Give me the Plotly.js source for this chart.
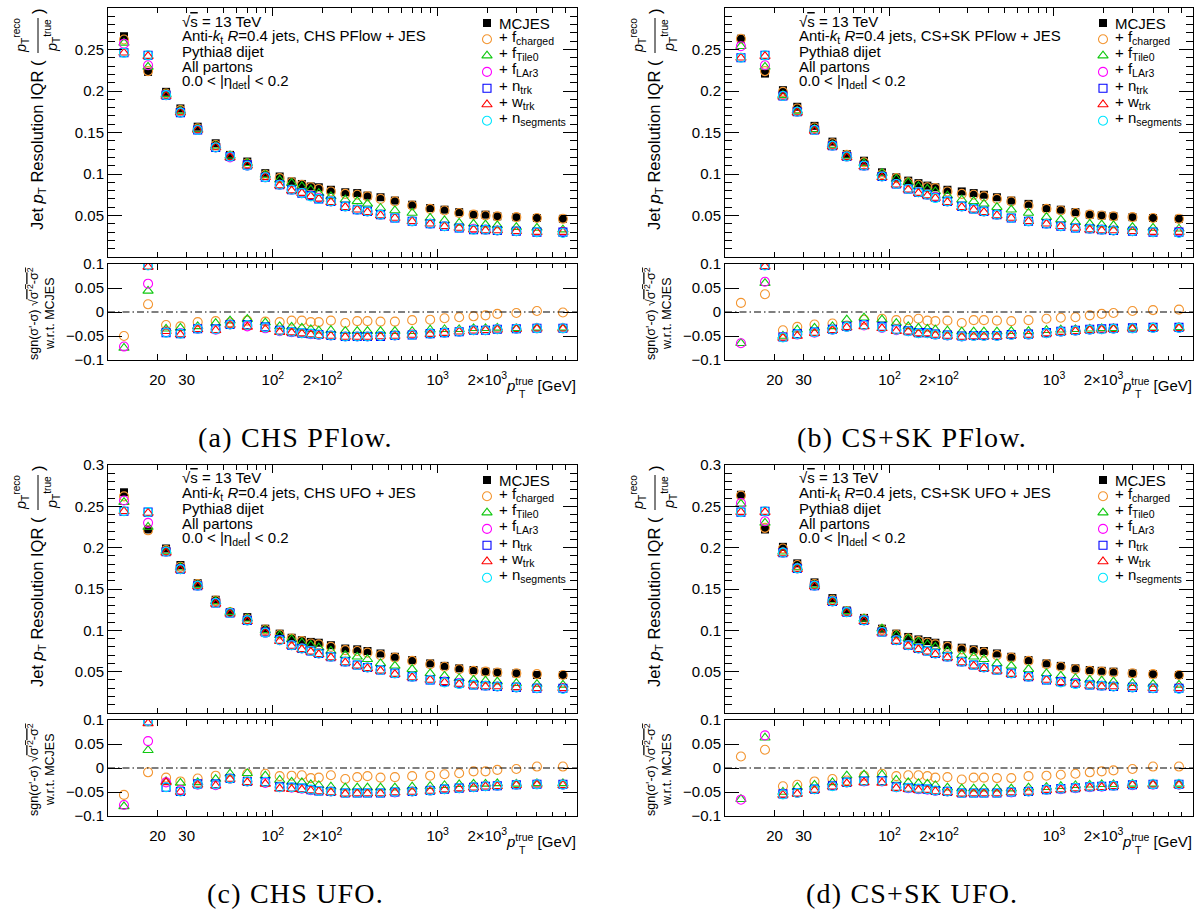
<!DOCTYPE html>
<html><head><meta charset="utf-8">
<script src="https://cdn.plot.ly/plotly-3.0.1.min.js"></script>
<style>html,body{margin:0;padding:0;background:#fff;}#chart{width:1204px;height:913px;}</style>
</head><body><div id="chart"></div>
<script>
// ---------------- data ----------------
const pt = [12.5, 17.5, 22.5, 27.5, 35, 45, 55, 70, 90, 110, 130, 150, 170, 190, 225, 275, 325, 375, 450, 550, 700, 900, 1100, 1350, 1650, 1950, 2300, 3000, 4000, 5750];

// (a) CHS PFlow
const mcjesA = [0.266, 0.223, 0.199, 0.179, 0.157, 0.137, 0.123, 0.115, 0.101, 0.097, 0.091, 0.088, 0.085, 0.084, 0.081, 0.078, 0.077, 0.074, 0.072, 0.068, 0.063, 0.059, 0.057, 0.054, 0.051, 0.051, 0.049, 0.048, 0.047, 0.046];
const fchA   = [0.262, 0.224, 0.197, 0.177, 0.155, 0.135, 0.122, 0.113, 0.099, 0.095, 0.090, 0.087, 0.084, 0.082, 0.079, 0.076, 0.075, 0.073, 0.070, 0.067, 0.062, 0.058, 0.056, 0.053, 0.051, 0.050, 0.049, 0.048, 0.047, 0.046];
const ftileA = [0.258, 0.229, 0.196, 0.176, 0.154, 0.134, 0.122, 0.113, 0.099, 0.093, 0.089, 0.085, 0.081, 0.077, 0.073, 0.069, 0.067, 0.064, 0.059, 0.056, 0.053, 0.047, 0.044, 0.041, 0.040, 0.039, 0.038, 0.036, 0.035, 0.033];
const flarA  = [0.257, 0.231, 0.195, 0.174, 0.153, 0.132, 0.120, 0.110, 0.096, 0.087, 0.081, 0.077, 0.074, 0.071, 0.067, 0.061, 0.057, 0.055, 0.051, 0.047, 0.043, 0.040, 0.037, 0.035, 0.034, 0.033, 0.032, 0.031, 0.030, 0.030];
const ntrkA  = [0.246, 0.243, 0.195, 0.174, 0.153, 0.132, 0.121, 0.111, 0.096, 0.087, 0.081, 0.077, 0.074, 0.070, 0.067, 0.061, 0.057, 0.055, 0.051, 0.047, 0.043, 0.040, 0.037, 0.035, 0.033, 0.033, 0.032, 0.031, 0.030, 0.030];
const wtrkA  = [0.246, 0.242, 0.194, 0.174, 0.153, 0.132, 0.120, 0.110, 0.096, 0.086, 0.080, 0.077, 0.073, 0.070, 0.066, 0.060, 0.057, 0.054, 0.050, 0.047, 0.043, 0.040, 0.037, 0.035, 0.033, 0.032, 0.032, 0.031, 0.030, 0.030];
const nsegA  = [0.246, 0.243, 0.195, 0.174, 0.153, 0.132, 0.121, 0.110, 0.096, 0.087, 0.081, 0.077, 0.073, 0.070, 0.067, 0.061, 0.057, 0.055, 0.051, 0.047, 0.043, 0.040, 0.037, 0.035, 0.033, 0.033, 0.032, 0.031, 0.030, 0.029];
const rfchA   = [-0.050, 0.016, -0.027, -0.030, -0.021, -0.019, -0.022, -0.018, -0.020, -0.021, -0.018, -0.018, -0.021, -0.021, -0.018, -0.023, -0.019, -0.019, -0.020, -0.020, -0.017, -0.016, -0.013, -0.011, -0.009, -0.007, -0.004, -0.002, 0.002, -0.001];
const rtileA  = [-0.075, 0.044, -0.035, -0.033, -0.030, -0.023, -0.018, -0.015, -0.022, -0.030, -0.031, -0.033, -0.036, -0.039, -0.038, -0.040, -0.040, -0.040, -0.040, -0.040, -0.040, -0.037, -0.036, -0.036, -0.034, -0.034, -0.033, -0.034, -0.033, -0.033];
const rlarA   = [-0.072, 0.059, -0.042, -0.044, -0.035, -0.037, -0.026, -0.030, -0.034, -0.040, -0.042, -0.044, -0.046, -0.048, -0.049, -0.051, -0.051, -0.051, -0.050, -0.049, -0.047, -0.045, -0.043, -0.041, -0.038, -0.038, -0.036, -0.035, -0.034, -0.034];
const rntrkA  = [null, 0.097, -0.043, -0.045, -0.035, -0.035, -0.026, -0.026, -0.031, -0.038, -0.041, -0.044, -0.045, -0.047, -0.049, -0.051, -0.051, -0.051, -0.051, -0.049, -0.048, -0.045, -0.043, -0.041, -0.038, -0.038, -0.036, -0.035, -0.034, -0.034];
const rwtrkA  = [null, 0.094, -0.040, -0.047, -0.036, -0.038, -0.027, -0.031, -0.036, -0.042, -0.043, -0.045, -0.047, -0.049, -0.050, -0.052, -0.052, -0.052, -0.051, -0.050, -0.048, -0.046, -0.044, -0.041, -0.039, -0.038, -0.037, -0.036, -0.035, -0.035];
const rnsegA  = [null, 0.097, -0.043, -0.045, -0.035, -0.036, -0.026, -0.027, -0.032, -0.039, -0.041, -0.044, -0.045, -0.047, -0.049, -0.051, -0.051, -0.051, -0.050, -0.049, -0.048, -0.045, -0.043, -0.041, -0.038, -0.038, -0.036, -0.035, -0.034, -0.034];

// (b) CS+SK PFlow
const mcjesB = [0.263, 0.221, 0.201, 0.181, 0.158, 0.139, 0.124, 0.116, 0.102, 0.096, 0.092, 0.089, 0.086, 0.084, 0.081, 0.079, 0.077, 0.075, 0.072, 0.068, 0.064, 0.059, 0.057, 0.054, 0.051, 0.050, 0.049, 0.048, 0.047, 0.046];
const fchB   = [0.263, 0.224, 0.199, 0.179, 0.156, 0.137, 0.123, 0.114, 0.100, 0.095, 0.090, 0.087, 0.084, 0.083, 0.079, 0.076, 0.075, 0.073, 0.070, 0.067, 0.062, 0.058, 0.056, 0.053, 0.051, 0.050, 0.049, 0.048, 0.047, 0.046];
const ftileB = [0.254, 0.229, 0.195, 0.176, 0.154, 0.135, 0.122, 0.113, 0.101, 0.094, 0.090, 0.085, 0.082, 0.079, 0.074, 0.069, 0.067, 0.064, 0.060, 0.057, 0.053, 0.048, 0.045, 0.042, 0.040, 0.039, 0.038, 0.036, 0.035, 0.034];
const flarB  = [0.254, 0.231, 0.194, 0.175, 0.153, 0.134, 0.121, 0.110, 0.097, 0.088, 0.082, 0.078, 0.075, 0.072, 0.067, 0.061, 0.058, 0.055, 0.051, 0.047, 0.043, 0.040, 0.037, 0.035, 0.034, 0.033, 0.032, 0.031, 0.030, 0.030];
const ntrkB  = [0.240, 0.243, 0.194, 0.175, 0.153, 0.134, 0.121, 0.110, 0.097, 0.088, 0.082, 0.078, 0.075, 0.072, 0.067, 0.061, 0.058, 0.055, 0.051, 0.047, 0.043, 0.040, 0.037, 0.035, 0.034, 0.033, 0.032, 0.031, 0.030, 0.030];
const wtrkB  = [0.240, 0.242, 0.193, 0.174, 0.152, 0.133, 0.120, 0.109, 0.096, 0.087, 0.081, 0.077, 0.074, 0.071, 0.066, 0.060, 0.057, 0.054, 0.050, 0.047, 0.043, 0.040, 0.037, 0.035, 0.033, 0.032, 0.032, 0.031, 0.030, 0.030];
const nsegB  = [0.240, 0.243, 0.194, 0.175, 0.153, 0.134, 0.121, 0.110, 0.097, 0.088, 0.082, 0.078, 0.075, 0.071, 0.067, 0.061, 0.058, 0.055, 0.051, 0.047, 0.043, 0.040, 0.037, 0.035, 0.034, 0.033, 0.032, 0.031, 0.030, 0.029];
const rfchB   = [0.019, 0.037, -0.038, -0.031, -0.026, -0.024, -0.028, -0.016, -0.014, -0.017, -0.017, -0.014, -0.018, -0.019, -0.018, -0.023, -0.017, -0.017, -0.018, -0.019, -0.017, -0.014, -0.012, -0.011, -0.007, -0.004, -0.002, 0.002, 0.004, 0.005];
const rtileB  = [-0.065, 0.060, -0.050, -0.037, -0.033, -0.030, -0.016, -0.012, -0.016, -0.023, -0.030, -0.033, -0.035, -0.037, -0.039, -0.041, -0.041, -0.041, -0.041, -0.040, -0.040, -0.038, -0.037, -0.036, -0.035, -0.034, -0.034, -0.033, -0.033, -0.032];
const rlarB   = [-0.065, 0.063, -0.052, -0.047, -0.043, -0.037, -0.031, -0.028, -0.033, -0.038, -0.040, -0.044, -0.044, -0.047, -0.049, -0.051, -0.050, -0.050, -0.050, -0.048, -0.047, -0.044, -0.041, -0.039, -0.037, -0.036, -0.035, -0.034, -0.033, -0.033];
const rntrkB  = [null, 0.097, -0.052, -0.045, -0.041, -0.036, -0.030, -0.026, -0.030, -0.036, -0.039, -0.043, -0.043, -0.046, -0.048, -0.050, -0.049, -0.049, -0.049, -0.047, -0.046, -0.043, -0.040, -0.038, -0.036, -0.035, -0.034, -0.033, -0.032, -0.032];
const rwtrkB  = [null, 0.095, -0.054, -0.050, -0.044, -0.038, -0.032, -0.030, -0.034, -0.040, -0.041, -0.045, -0.045, -0.048, -0.050, -0.052, -0.051, -0.051, -0.051, -0.049, -0.048, -0.045, -0.042, -0.040, -0.038, -0.037, -0.036, -0.035, -0.034, -0.034];
const rnsegB  = [null, 0.097, -0.053, -0.046, -0.042, -0.037, -0.031, -0.027, -0.032, -0.037, -0.040, -0.044, -0.044, -0.047, -0.049, -0.051, -0.050, -0.050, -0.050, -0.048, -0.047, -0.044, -0.041, -0.039, -0.037, -0.036, -0.035, -0.034, -0.033, -0.033];

// (c) CHS UFO
const mcjesC = [0.267, 0.222, 0.199, 0.179, 0.157, 0.137, 0.122, 0.116, 0.102, 0.096, 0.091, 0.088, 0.086, 0.085, 0.082, 0.078, 0.077, 0.075, 0.072, 0.068, 0.064, 0.060, 0.057, 0.054, 0.052, 0.050, 0.049, 0.048, 0.046, 0.046];
const fchC   = [0.262, 0.221, 0.197, 0.177, 0.156, 0.136, 0.122, 0.114, 0.101, 0.095, 0.090, 0.087, 0.084, 0.083, 0.080, 0.076, 0.075, 0.073, 0.070, 0.067, 0.063, 0.059, 0.056, 0.053, 0.051, 0.050, 0.049, 0.048, 0.047, 0.046];
const ftileC = [0.255, 0.225, 0.196, 0.176, 0.155, 0.135, 0.122, 0.114, 0.100, 0.094, 0.089, 0.085, 0.082, 0.079, 0.075, 0.070, 0.068, 0.065, 0.060, 0.057, 0.053, 0.048, 0.045, 0.042, 0.040, 0.039, 0.038, 0.036, 0.035, 0.034];
const flarC  = [0.257, 0.230, 0.195, 0.174, 0.154, 0.133, 0.121, 0.112, 0.097, 0.088, 0.082, 0.078, 0.075, 0.072, 0.068, 0.062, 0.058, 0.055, 0.052, 0.048, 0.044, 0.040, 0.038, 0.036, 0.034, 0.033, 0.032, 0.031, 0.030, 0.030];
const ntrkC  = [0.244, 0.243, 0.195, 0.174, 0.154, 0.133, 0.121, 0.112, 0.098, 0.089, 0.082, 0.078, 0.075, 0.072, 0.068, 0.062, 0.058, 0.055, 0.052, 0.048, 0.044, 0.040, 0.038, 0.036, 0.034, 0.033, 0.032, 0.031, 0.030, 0.030];
const wtrkC  = [0.244, 0.242, 0.194, 0.173, 0.153, 0.132, 0.120, 0.111, 0.097, 0.087, 0.081, 0.077, 0.074, 0.071, 0.067, 0.061, 0.057, 0.054, 0.051, 0.047, 0.043, 0.040, 0.037, 0.035, 0.033, 0.032, 0.032, 0.031, 0.030, 0.030];
const nsegC  = [0.244, 0.243, 0.195, 0.174, 0.154, 0.133, 0.121, 0.112, 0.097, 0.088, 0.082, 0.078, 0.075, 0.072, 0.068, 0.062, 0.058, 0.055, 0.052, 0.048, 0.044, 0.040, 0.037, 0.035, 0.034, 0.033, 0.032, 0.031, 0.030, 0.029];
const rfchC   = [-0.056, -0.009, -0.020, -0.028, -0.022, -0.016, -0.022, -0.012, -0.012, -0.017, -0.016, -0.015, -0.021, -0.020, -0.015, -0.023, -0.019, -0.017, -0.020, -0.019, -0.017, -0.016, -0.013, -0.011, -0.007, -0.007, -0.004, -0.002, 0.003, 0.003];
const rtileC  = [-0.080, 0.037, -0.028, -0.031, -0.030, -0.023, -0.012, -0.011, -0.016, -0.025, -0.029, -0.030, -0.034, -0.036, -0.039, -0.041, -0.041, -0.041, -0.041, -0.041, -0.039, -0.038, -0.036, -0.034, -0.033, -0.033, -0.032, -0.033, -0.032, -0.032];
const rlarC   = [-0.077, 0.056, -0.030, -0.046, -0.035, -0.036, -0.022, -0.028, -0.031, -0.040, -0.041, -0.043, -0.046, -0.048, -0.049, -0.052, -0.052, -0.052, -0.052, -0.051, -0.049, -0.047, -0.044, -0.042, -0.040, -0.038, -0.037, -0.035, -0.034, -0.035];
const rntrkC  = [null, 0.098, -0.040, -0.049, -0.033, -0.033, -0.022, -0.028, -0.028, -0.039, -0.040, -0.042, -0.045, -0.048, -0.049, -0.052, -0.052, -0.052, -0.052, -0.050, -0.049, -0.047, -0.044, -0.042, -0.040, -0.038, -0.037, -0.035, -0.034, -0.034];
const rwtrkC  = [null, 0.093, -0.030, -0.050, -0.035, -0.037, -0.023, -0.030, -0.033, -0.043, -0.044, -0.045, -0.047, -0.049, -0.051, -0.054, -0.053, -0.053, -0.053, -0.051, -0.050, -0.048, -0.045, -0.043, -0.041, -0.039, -0.038, -0.036, -0.035, -0.036];
const rnsegC  = [null, 0.097, -0.040, -0.049, -0.034, -0.034, -0.022, -0.028, -0.029, -0.040, -0.040, -0.042, -0.045, -0.048, -0.049, -0.052, -0.052, -0.052, -0.052, -0.050, -0.049, -0.047, -0.044, -0.042, -0.040, -0.038, -0.037, -0.035, -0.034, -0.035];

// (d) CS+SK UFO
const mcjesD = [0.264, 0.222, 0.201, 0.181, 0.158, 0.139, 0.124, 0.115, 0.102, 0.096, 0.092, 0.089, 0.087, 0.085, 0.082, 0.079, 0.077, 0.075, 0.072, 0.068, 0.064, 0.060, 0.057, 0.054, 0.052, 0.051, 0.050, 0.048, 0.047, 0.046];
const fchD   = [0.263, 0.224, 0.199, 0.179, 0.156, 0.137, 0.123, 0.114, 0.101, 0.095, 0.090, 0.087, 0.085, 0.083, 0.080, 0.077, 0.075, 0.073, 0.070, 0.067, 0.063, 0.059, 0.056, 0.053, 0.051, 0.050, 0.049, 0.048, 0.047, 0.046];
const ftileD = [0.253, 0.230, 0.195, 0.176, 0.155, 0.136, 0.123, 0.114, 0.102, 0.094, 0.090, 0.086, 0.083, 0.080, 0.075, 0.070, 0.068, 0.065, 0.060, 0.057, 0.053, 0.048, 0.045, 0.042, 0.040, 0.039, 0.038, 0.036, 0.035, 0.034];
const flarD  = [0.254, 0.232, 0.194, 0.175, 0.154, 0.135, 0.122, 0.112, 0.098, 0.088, 0.082, 0.078, 0.075, 0.072, 0.068, 0.062, 0.058, 0.055, 0.052, 0.048, 0.044, 0.040, 0.038, 0.036, 0.034, 0.033, 0.032, 0.031, 0.030, 0.030];
const ntrkD  = [0.243, 0.244, 0.194, 0.175, 0.154, 0.135, 0.122, 0.112, 0.098, 0.088, 0.082, 0.078, 0.075, 0.072, 0.068, 0.062, 0.058, 0.055, 0.052, 0.048, 0.044, 0.040, 0.038, 0.036, 0.034, 0.033, 0.032, 0.031, 0.030, 0.030];
const wtrkD  = [0.243, 0.243, 0.193, 0.174, 0.153, 0.134, 0.121, 0.111, 0.097, 0.087, 0.081, 0.077, 0.074, 0.071, 0.067, 0.061, 0.057, 0.054, 0.051, 0.047, 0.043, 0.040, 0.037, 0.035, 0.033, 0.032, 0.032, 0.031, 0.030, 0.030];
const nsegD  = [0.243, 0.244, 0.194, 0.175, 0.154, 0.135, 0.122, 0.112, 0.098, 0.088, 0.082, 0.078, 0.075, 0.072, 0.068, 0.062, 0.058, 0.055, 0.052, 0.048, 0.044, 0.040, 0.037, 0.035, 0.034, 0.033, 0.032, 0.031, 0.030, 0.029];
const rfchD   = [0.024, 0.038, -0.038, -0.035, -0.028, -0.023, -0.026, -0.016, -0.012, -0.017, -0.015, -0.015, -0.017, -0.020, -0.019, -0.024, -0.020, -0.020, -0.021, -0.021, -0.017, -0.016, -0.014, -0.012, -0.009, -0.007, -0.005, -0.002, 0.003, 0.003];
const rtileD  = [-0.065, 0.063, -0.050, -0.040, -0.035, -0.030, -0.016, -0.014, -0.014, -0.025, -0.030, -0.032, -0.033, -0.036, -0.041, -0.043, -0.043, -0.043, -0.043, -0.043, -0.041, -0.040, -0.038, -0.036, -0.035, -0.034, -0.034, -0.033, -0.033, -0.033];
const rlarD   = [-0.066, 0.068, -0.054, -0.052, -0.044, -0.037, -0.030, -0.028, -0.028, -0.040, -0.042, -0.044, -0.045, -0.048, -0.049, -0.052, -0.052, -0.052, -0.052, -0.051, -0.049, -0.045, -0.044, -0.042, -0.040, -0.039, -0.037, -0.036, -0.035, -0.035];
const rntrkD  = [null, null, -0.054, -0.051, -0.044, -0.037, -0.030, -0.027, -0.026, -0.039, -0.041, -0.043, -0.044, -0.047, -0.049, -0.052, -0.052, -0.052, -0.052, -0.050, -0.049, -0.045, -0.043, -0.041, -0.039, -0.038, -0.037, -0.035, -0.034, -0.034];
const rwtrkD  = [null, null, -0.056, -0.054, -0.046, -0.039, -0.032, -0.030, -0.031, -0.042, -0.044, -0.046, -0.046, -0.049, -0.051, -0.054, -0.053, -0.053, -0.053, -0.051, -0.050, -0.046, -0.045, -0.043, -0.041, -0.040, -0.038, -0.036, -0.035, -0.036];
const rnsegD  = [null, null, -0.055, -0.052, -0.044, -0.038, -0.030, -0.027, -0.027, -0.040, -0.041, -0.043, -0.044, -0.047, -0.049, -0.052, -0.052, -0.052, -0.052, -0.050, -0.049, -0.045, -0.043, -0.041, -0.039, -0.038, -0.037, -0.035, -0.034, -0.034];

const seriesNames = ['MCJES', '+ f<sub>charged</sub>', '+ f<sub>Tile0</sub>', '+ f<sub>LAr3</sub>', '+ n<sub>trk</sub>', '+ w<sub>trk</sub>', '+ n<sub>segments</sub>'];
const mainTickVals = [0.05, 0.1, 0.15, 0.2, 0.25, 0.3];
const mainTickText = ['0.05', '0.1', '0.15', '0.2', '0.25', '0.3'];
const ratioTickVals = [-0.1, -0.05, 0, 0.05, 0.1];
const ratioTickText = ['\u22120.1', '\u22120.05', '0', '0.05', '0.1'];
const xLabelVals = [20, 30, 100, 200, 1000, 2000];
const xLabelText = ['20', '30', '10<sup>2</sup>', '2\u00d710<sup>2</sup>', '10<sup>3</sup>', '2\u00d710<sup>3</sup>'];

// ---------------- styles / geometry ----------------
const styles = [
  {symbol: 'square', color: '#000000', size: 8, filled: true},
  {symbol: 'circle-open', color: '#f39530', size: 9},
  {symbol: 'triangle-up-open', color: '#10c810', size: 9},
  {symbol: 'circle-open', color: '#ff00ff', size: 9},
  {symbol: 'square-open', color: '#0000ff', size: 8},
  {symbol: 'triangle-up-open', color: '#ff0000', size: 9},
  {symbol: 'circle-open', color: '#00e5ff', size: 9}
];
const FONT = '"Liberation Sans", Arial, Helvetica, sans-serif';
const SERIF = '"Liberation Serif", "Times New Roman", serif';
const W = 1204, H = 913;
const fx = p => p / W, fy = p => 1 - p / H;

const panels = [
  {main: [mcjesA, fchA, ftileA, flarA, ntrkA, wtrkA, nsegA], ratio: [rfchA, rtileA, rlarA, rntrkA, rwtrkA, rnsegA],
   jet: 'CHS PFlow', caption: '(a) CHS PFlow.', x0: 108, x1: 577, top: 8, bot: 257, rTop: 264, rBot: 360},
  {main: [mcjesB, fchB, ftileB, flarB, ntrkB, wtrkB, nsegB], ratio: [rfchB, rtileB, rlarB, rntrkB, rwtrkB, rnsegB],
   jet: 'CS+SK PFlow', caption: '(b) CS+SK PFlow.', x0: 725, x1: 1193, top: 8, bot: 257, rTop: 264, rBot: 360},
  {main: [mcjesC, fchC, ftileC, flarC, ntrkC, wtrkC, nsegC], ratio: [rfchC, rtileC, rlarC, rntrkC, rwtrkC, rnsegC],
   jet: 'CHS UFO', caption: '(c) CHS UFO.', x0: 108, x1: 577, top: 465, bot: 713, rTop: 720, rBot: 816},
  {main: [mcjesD, fchD, ftileD, flarD, ntrkD, wtrkD, nsegD], ratio: [rfchD, rtileD, rlarD, rntrkD, rwtrkD, rnsegD],
   jet: 'CS+SK UFO', caption: '(d) CS+SK UFO.', x0: 725, x1: 1193, top: 465, bot: 713, rTop: 720, rBot: 816}
];

const minorXMain = [20,30,40,50,60,70,80,90,200,300,400,500,600,700,800,900,2000,3000,4000,5000,6000,7000];
const minorXRatio = [40,50,60,70,80,90,300,400,500,600,700,800,900,3000,4000,5000,6000,7000];
const minorYMain = [];
for (let k = 1; k < 30; k++) if (k % 5 !== 0) minorYMain.push(k / 100);

function markerOf(s) {
  return s.filled
    ? {symbol: s.symbol, size: s.size, color: s.color, line: {width: 0}}
    : {symbol: s.symbol, size: s.size, color: s.color, line: {color: s.color, width: 1.1}};
}

const traces = [];
const layout = {
  width: W, height: H, margin: {l: 0, r: 0, t: 0, b: 0}, showlegend: false,
  paper_bgcolor: '#ffffff', plot_bgcolor: '#ffffff', hovermode: false,
  font: {family: FONT, size: 15, color: '#000'},
  annotations: [], shapes: []
};
const ann = (o) => layout.annotations.push(Object.assign({showarrow: false, xref: 'paper', yref: 'paper', font: {family: FONT, size: 15, color: '#000'}}, o));

panels.forEach((P, i) => {
  const m = 2 * i + 1, r = 2 * i + 2, g = 9 + i;
  const xdom = [fx(P.x0), fx(P.x1)];
  const baseX = {type: 'log', range: [1, Math.log10(7000)], domain: xdom, showline: true, linecolor: '#000', linewidth: 1,
    mirror: 'ticks', ticks: 'inside', tickcolor: '#000', tickwidth: 1, showgrid: false, zeroline: false, fixedrange: true};
  const baseY = {showline: true, linecolor: '#000', linewidth: 1, mirror: 'ticks', ticks: 'inside', tickcolor: '#000', tickwidth: 1,
    showgrid: false, zeroline: false, fixedrange: true, tickfont: {family: FONT, size: 15, color: '#000'}, tickmode: 'array'};

  layout['xaxis' + m] = Object.assign({}, baseX, {anchor: 'y' + m, tickmode: 'array', tickvals: [10, 100, 1000], ticklen: 8, showticklabels: false,
    minor: {tickmode: 'array', tickvals: minorXMain, ticklen: 5, ticks: 'inside', tickcolor: '#000', tickwidth: 1}});
  layout['yaxis' + m] = Object.assign({}, baseY, {anchor: 'x' + m, domain: [fy(P.bot), fy(P.top)], range: [0, 0.3],
    tickvals: mainTickVals, ticktext: mainTickText, ticklen: 14,
    minor: {tickmode: 'array', tickvals: minorYMain, ticklen: 7, ticks: 'inside', tickcolor: '#000', tickwidth: 1}});
  layout['xaxis' + r] = Object.assign({}, baseX, {anchor: 'y' + r, tickmode: 'array', tickvals: xLabelVals, ticktext: xLabelText, ticklen: 6,
    tickfont: {family: FONT, size: 15, color: '#000'}, ticklabelstandoff: 6,
    minor: {tickmode: 'array', tickvals: minorXRatio, ticklen: 4, ticks: 'inside', tickcolor: '#000', tickwidth: 1}});
  layout['yaxis' + r] = Object.assign({}, baseY, {anchor: 'x' + r, domain: [fy(P.rBot), fy(P.rTop)], range: [-0.1, 0.1],
    tickvals: ratioTickVals, ticktext: ratioTickText, ticklen: 14});

  // legend axis (rows stacked from the series order)
  const lx = P.x1 - 90, ly0 = P.top + 15, step = 16.3;
  layout['xaxis' + g] = {domain: [fx(lx - 10), fx(lx + 10)], range: [-1, 1], visible: false, anchor: 'y' + g, fixedrange: true};
  layout['yaxis' + g] = {domain: [fy(ly0 + 6.5 * step), fy(ly0 - 0.5 * step)], range: [6.5, -0.5], visible: false, anchor: 'x' + g, fixedrange: true};

  P.main.forEach((vals, j) => {
    traces.push({x: pt, y: vals, xaxis: 'x' + m, yaxis: 'y' + m, type: 'scatter', mode: 'markers', marker: markerOf(styles[j]), hoverinfo: 'skip', name: seriesNames[j]});
  });
  P.ratio.forEach((vals, j) => {
    traces.push({x: pt, y: vals, xaxis: 'x' + r, yaxis: 'y' + r, type: 'scatter', mode: 'markers', marker: markerOf(styles[j + 1]), hoverinfo: 'skip', name: seriesNames[j + 1]});
  });
  seriesNames.forEach((nm, j) => {
    traces.push({x: [0], y: [j], xaxis: 'x' + g, yaxis: 'y' + g, type: 'scatter', mode: 'markers', marker: markerOf(styles[j]), hoverinfo: 'skip', cliponaxis: false});
    ann({text: nm, xref: 'paper', yref: 'y' + g, x: fx(lx + 10), y: j, xanchor: 'left', yanchor: 'middle', yshift: j === 0 ? 0 : 2});
  });

  layout.shapes.push({type: 'line', xref: 'x' + r + ' domain', yref: 'y' + r, x0: 0, x1: 1, y0: 0, y1: 0,
    line: {color: '#000', width: 1.2, dash: '7px,3px,1.5px,3px'}});

  // info text, top left
  const tx = P.x0 + 72;
  const lines = ['\u221a<span style="text-decoration:overline">s</span> = 13 TeV',
    'Anti-<i>k</i><sub>t</sub> <i>R</i>=0.4 jets, ' + P.jet + ' + JES',
    'Pythia8 dijet', 'All partons', '0.0 &lt; |\u03b7<sub>det</sub>| &lt; 0.2'];
  lines.forEach((t, k) => {
    ann({text: t, x: fx(tx), y: fy(P.top + 13 + k * 15.2), xanchor: 'left', yanchor: 'middle'});
  });

  // main y title
  ann({text: 'Jet <i>p</i><sub>T</sub> Resolution IQR (', textangle: -90, x: fx(P.x0 - 70), y: fy(P.top + 224), xanchor: 'center', yanchor: 'bottom', font: {family: FONT, size: 16.5, color: '#000'}});
  ann({text: '<i>p</i><sub>T</sub><sup>reco</sup>', textangle: -90, x: fx(P.x0 - 87), y: fy(P.top + 28), xanchor: 'center', yanchor: 'middle', font: {family: FONT, size: 14.5, color: '#000'}});
  ann({text: '<i>p</i><sub>T</sub><sup>true</sup>', textangle: -90, x: fx(P.x0 - 56), y: fy(P.top + 28), xanchor: 'center', yanchor: 'middle', font: {family: FONT, size: 14.5, color: '#000'}});
  layout.shapes.push({type: 'line', xref: 'paper', yref: 'paper', x0: fx(P.x0 - 70), x1: fx(P.x0 - 70), y0: fy(P.top + 10), y1: fy(P.top + 45), line: {color: '#000', width: 1}});
  ann({text: ')', textangle: -90, x: fx(P.x0 - 70), y: fy(P.top + 3), xanchor: 'center', yanchor: 'middle', font: {family: FONT, size: 16.5, color: '#000'}});

  // ratio y title
  const rc = (P.rTop + P.rBot) / 2;
  ann({text: 'sgn(\u03c3\'-\u03c3) \u221a<span style="text-decoration:overline">\u03c3\'<sup>2</sup>-\u03c3<sup>2</sup></span>', textangle: -90,
    x: fx(P.x0 - 75), y: fy(rc + 2), xanchor: 'center', yanchor: 'middle', font: {family: FONT, size: 12.5, color: '#000'}});
  ann({text: 'w.r.t. MCJES', textangle: -90, x: fx(P.x0 - 58), y: fy(rc + 2), xanchor: 'center', yanchor: 'middle', font: {family: FONT, size: 12.5, color: '#000'}});

  // x title
  ann({text: '<i>p</i><sup>true</sup> [GeV]', x: fx(P.x1 + 1), y: fy(P.rBot + 24), xanchor: 'right', yanchor: 'middle'});
  ann({text: 'T', x: fx(P.x1 - 60), y: fy(P.rBot + 34), xanchor: 'left', yanchor: 'middle', font: {family: FONT, size: 10.5, color: '#000'}});

  // caption
  ann({text: '<span style="letter-spacing:1.2px">' + P.caption + '</span>', x: fx(P.x0 + 187), y: fy(P.rBot + 77), xanchor: 'center', yanchor: 'middle', font: {family: SERIF, size: 28, color: '#000'}});
});

Plotly.newPlot('chart', traces, layout, {staticPlot: true, displayModeBar: false});
</script>
</body></html>
